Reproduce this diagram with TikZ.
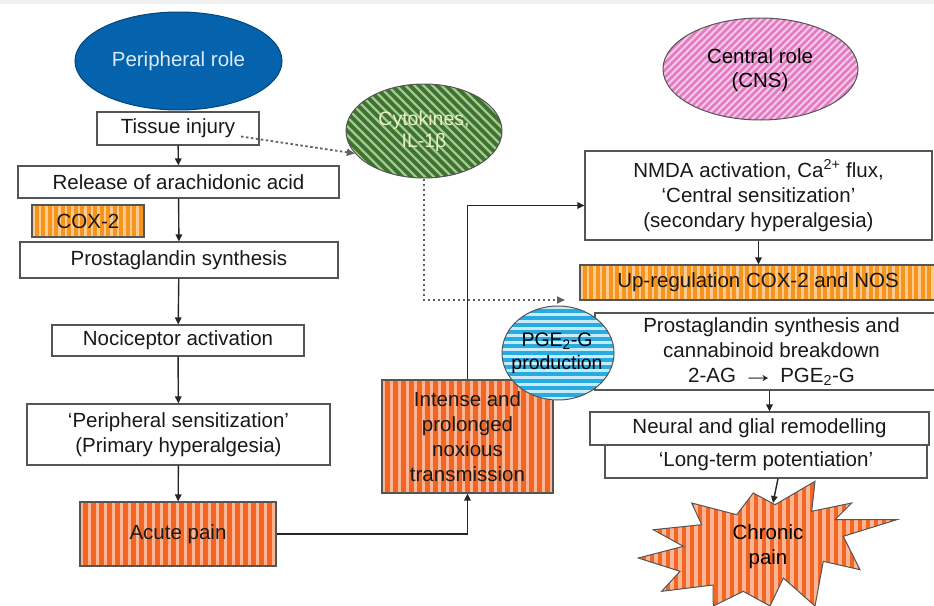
\documentclass[tikz,border=0pt]{standalone}
\usepackage{fontspec}
\usepackage{graphicx}
\setmainfont{Liberation Sans}
\usetikzlibrary{shapes.geometric,arrows.meta}
\definecolor{perblue}{HTML}{0563AD}
\definecolor{pertext}{HTML}{DCEAF7}
\definecolor{orbase}{HTML}{F7941D}
\definecolor{orlight}{HTML}{FCCB8F}
\definecolor{rdbase}{HTML}{F26522}
\definecolor{rdlight}{HTML}{F9B594}
\definecolor{grbase}{HTML}{3A7529}
\definecolor{grlight}{HTML}{A8C49A}
\definecolor{grtext}{HTML}{E8F0C4}
\definecolor{pkbase}{HTML}{E27BC1}
\definecolor{pklight}{HTML}{F6CBE8}
\definecolor{blbase}{HTML}{29AAE1}
\definecolor{bllight}{HTML}{C8EBF8}
\definecolor{edge}{HTML}{555555}
\definecolor{dotc}{HTML}{606060}
\tikzset{
  vstripes/.style n args={3}{path picture={
    \fill[#1] (path picture bounding box.south west) rectangle (path picture bounding box.north east);
    \foreach \i in {0,...,70} {\fill[#2] ([xshift=\i*#3]path picture bounding box.south west) rectangle ++(0.4*#3,300pt);}
  }},
  hstripes/.style n args={3}{path picture={
    \fill[#1] (path picture bounding box.south west) rectangle (path picture bounding box.north east);
    \foreach \i in {0,...,30} {\fill[#2] ([yshift=\i*#3]path picture bounding box.south west) rectangle ++(300pt,0.4*#3);}
  }},
  dstripesup/.style n args={3}{path picture={
    \fill[#1] (path picture bounding box.south west) rectangle (path picture bounding box.north east);
    \foreach \i in {-45,...,45} {\draw[#2,line width=0.3*#3] ([xshift=\i*#3]path picture bounding box.center) ++(-150pt,-150pt) -- ++(300pt,300pt);}
  }},
  dstripesdown/.style n args={3}{path picture={
    \fill[#1] (path picture bounding box.south west) rectangle (path picture bounding box.north east);
    \foreach \i in {-45,...,45} {\draw[#2,line width=0.25*#3] ([xshift=\i*#3]path picture bounding box.center) ++(-150pt,150pt) -- ++(300pt,-300pt);}
  }},
  box/.style={rectangle, draw=edge, line width=1.1pt, fill=white, inner sep=0pt, align=center, text=black!90},
  orbox/.style={box, vstripes={orbase}{orlight}{6.5pt}},
  rdbox/.style={box, vstripes={rdbase}{rdlight}{8pt}},
  oval/.style={ellipse, draw=edge, line width=1pt, inner sep=0pt},
  lbl/.style={align=center, inner sep=0pt},
  arr/.style={draw=black!85, line width=1.4pt, -{Triangle[length=7pt,width=6.5pt]}},
  dotarr/.style={draw=dotc, line width=1.8pt, dash pattern=on 2.5pt off 2.5pt, -{Triangle[length=8pt,width=7pt]}},
}
\begin{document}
\begin{tikzpicture}[x=1pt,y=-1pt,font=\fontsize{20.5}{25}\selectfont]
\useasboundingbox (0,0) rectangle (934,605);
\fill[gray!12] (0,0) rectangle (934,3.5);

% left column
\node[oval, fill=perblue, draw=perblue!70!black, minimum width=207pt, minimum height=98pt] (per) at (178.5,61) {};
\node[lbl, text=pertext] (pertxt) at (178.5,61) {Peripheral role};
\node[box, minimum width=162pt, minimum height=33pt] (tis) at (178,128.5) {Tissue injury};
\node[box, minimum width=321pt, minimum height=32pt] (rel) at (178.5,182) {Release of arachidonic acid};
\node[orbox, minimum width=112pt, minimum height=32pt] (cox) at (88,221) {COX-2};
\node[box, minimum width=318pt, minimum height=36pt] (pgs) at (179,260) {Prostaglandin synthesis};
\node[box, minimum width=252pt, minimum height=31pt] (noc) at (178,340.5) {Nociceptor activation};
\node[box, minimum width=303pt, minimum height=61pt] (psen) at (178.5,434.5) {‘Peripheral sensitization’\\(Primary hyperalgesia)};
\node[rdbox, minimum width=196pt, minimum height=64pt] (acute) at (178,534) {Acute pain};

% middle
\node[rdbox, minimum width=171pt, minimum height=113pt] (intense) at (467.5,436.5) {Intense and\\prolonged\\noxious\\transmission};
\node[oval, dstripesdown={grbase}{grlight}{9pt}, minimum width=156pt, minimum height=94pt] (cyt) at (424,131) {};
\node[lbl, text=grtext, font=\fontsize{19.5}{22}\selectfont] (cyttxt) at (424,131) {Cytokines,\\IL-1β};

% right column
\node[oval, dstripesup={pkbase}{pklight}{7pt}, minimum width=195pt, minimum height=102pt] (cns) at (760.5,69) {};
\node[lbl, font=\fontsize{20.5}{23.5}\selectfont] (cnstxt) at (760,70) {Central role\\(CNS)};
\node[box, minimum width=347pt, minimum height=89pt] (nmda) at (758.5,195.5) {NMDA activation, Ca\textsuperscript{2+} flux,\\‘Central sensitization’\\(secondary hyperalgesia)};
\node[orbox, minimum width=356pt, minimum height=35pt] (upr) at (758,282.5) {Up-regulation COX-2 and NOS};
\node[box, minimum width=353pt, minimum height=77pt] (pgc) at (771.5,351.5) {Prostaglandin synthesis and\\cannabinoid breakdown\\2-AG \scalebox{1.6}[1.15]{→} PGE\textsubscript{2}-G};
\node[oval, hstripes={blbase}{bllight}{7pt}, minimum width=112pt, minimum height=94pt] (pge) at (558,353) {};
\node[lbl, font=\fontsize{19.5}{23}\selectfont] (pgetxt) at (557,353) {PGE\textsubscript{2}-G\\production};
\node[box, minimum width=339pt, minimum height=33pt] (neu) at (759.5,428.5) {Neural and glial remodelling};
\node[box, minimum width=322pt, minimum height=33pt] (ltp) at (766,461.5) {‘Long-term potentiation’};

% chronic pain starburst
\path[draw=edge, line width=1pt, vstripes={rdbase}{rdlight}{8pt}]
  (691.7,503) -- (736.7,514.7) -- (753.3,493) -- (775,504.7) -- (815,481.3) -- (811.7,511.3)
  -- (851.7,503) -- (835,519.7) -- (896.7,519.7) -- (843.3,536.3) -- (860,569.7) -- (823.3,561.3)
  -- (815,606) -- (783.3,578) -- (770,606) -- (743.3,591.3) -- (713.3,606) -- (713,585)
  -- (661.7,591.3) -- (680,571.3) -- (638.3,558) -- (683.3,546.3) -- (653.3,529.7) -- (701.7,524.7) -- cycle;
\node[lbl] (chr) at (768,547) {Chronic\\pain};
\coordinate (chrtop) at (773,503);

% connectors
\draw[arr] (tis) -- (rel);
\draw[arr] (rel) -- (pgs);
\draw[arr] (pgs) -- (noc);
\draw[arr] (noc) -- (psen);
\draw[arr] (psen) -- (acute);
\draw[arr] (acute.east) -| (intense.south);
\draw[arr] (intense.north) |- ([yshift=-10pt]nmda.west);
\draw[arr] (nmda.south) -- (nmda.south |- upr.north);
\draw[arr] ([xshift=-2pt]pgc.south) -- ([xshift=-2pt]pgc.south |- neu.north);
\draw[arr] ([xshift=12pt]ltp.south) -- (chrtop);

\coordinate (tisdot) at (241,136.5);
\coordinate (cytend) at (565,300);
\draw[dotarr] (tisdot) -- (cyt.198);
\draw[dotarr] (cyt.south) |- (cytend);
\end{tikzpicture}
\end{document}
